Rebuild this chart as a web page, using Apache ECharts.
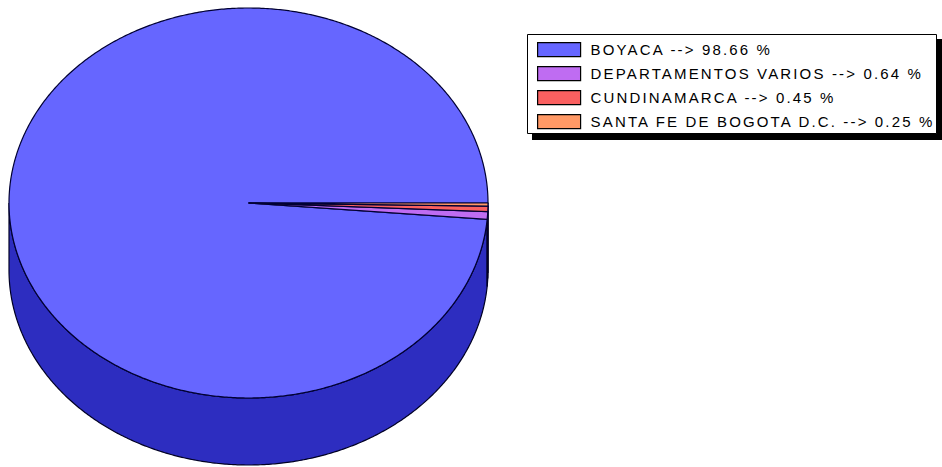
<!DOCTYPE html>
<html>
<head>
<meta charset="utf-8">
<script src="https://cdn.jsdelivr.net/npm/echarts@6.0.0/dist/echarts.min.js"></script>
<style>
  html, body { margin: 0; padding: 0; background: #fff; }
  #chart { width: 942px; height: 467px; letter-spacing: 2.15px; }
</style>
</head>
<body>
<div id="chart"></div>
<script>
// ---- data ----
const categories = ['BOYACA', 'DEPARTAMENTOS VARIOS', 'CUNDINAMARCA', 'SANTA FE DE BOGOTA D.C.'];
const values = [98.66, 0.64, 0.45, 0.25];
const topColors = ['#6666ff', '#bf6cf2', '#fa6060', '#ff9966'];
const sideColors = ['#2d2dc0', '#7d38a8', '#b43636', '#b8663f'];

const labels = categories.map((c, i) => c + ' --> ' + values[i].toFixed(2) + ' %');

// ---- layout of the tilted pie ----
const CX = 248.5, CY = 203, RX = 239.5, RY = 195, DEPTH = 67;
const total = values.reduce((a, b) => a + b, 0);

function pt(theta, dy) {
  return [CX + RX * Math.cos(theta), CY - RY * Math.sin(theta) + (dy || 0)];
}
function arc(a, b, dy) {
  const pts = [];
  const n = Math.max(2, Math.ceil((b - a) / (Math.PI / 360)));
  for (let k = 0; k <= n; k++) pts.push(pt(a + (b - a) * k / n, dy));
  return pts;
}

function renderItem(params, api) {
  const i = params.seriesIndex;
  const v = api.value(0);
  let before = 0;
  for (let k = 0; k < i; k++) before += values[k];
  const start = before / total * Math.PI * 2;
  const end = start + v / total * Math.PI * 2;
  const children = [];
  const a = Math.max(start, Math.PI), b = Math.min(end, Math.PI * 2);
  if (a < b) {
    const top = arc(a, b, 0);
    const bottom = arc(a, b, DEPTH).reverse();
    children.push({
      type: 'polygon', z2: 1,
      shape: { points: top.concat(bottom) },
      style: { fill: sideColors[i], stroke: '#000024', lineWidth: 1.2 }
    });
  }
  children.push({
    type: 'polygon', z2: 10,
    shape: { points: [[CX, CY]].concat(arc(start, end, 0)) },
    style: { fill: topColors[i], stroke: '#000033', lineWidth: 1.2 }
  });
  return { type: 'group', children: children };
}

const chart = echarts.init(document.getElementById('chart'), null, { renderer: 'svg' });
chart.setOption({
  animation: false,
  backgroundColor: '#fff',
  graphic: [
    { type: 'rect', z: 0, silent: true, shape: { x: 532, y: 39, width: 410, height: 101 }, style: { fill: '#000' } },
    { type: 'rect', z: 1, silent: true, shape: { x: 527.5, y: 34.5, width: 409, height: 99 }, style: { fill: '#fff', stroke: '#000', lineWidth: 1 } }
  ],
  legend: {
    orient: 'vertical',
    left: 527,
    top: 34,
    padding: [8, 12, 7, 10],
    icon: 'rect',
    itemWidth: 43,
    itemHeight: 14,
    itemGap: 8.8,
    selectedMode: false,
    data: labels,
    itemStyle: { borderColor: '#000', borderWidth: 1.2 },
    textStyle: { fontFamily: 'Liberation Sans', fontSize: 15, color: '#000', lineHeight: 14, padding: [0, 0, 0, 5] }
  },
  series: labels.map((name, i) => ({
    type: 'custom',
    name: name,
    coordinateSystem: 'none',
    z: 2,
    itemStyle: { color: topColors[i] },
    renderItem: renderItem,
    data: [[values[i]]]
  }))
});
</script>
</body>
</html>
